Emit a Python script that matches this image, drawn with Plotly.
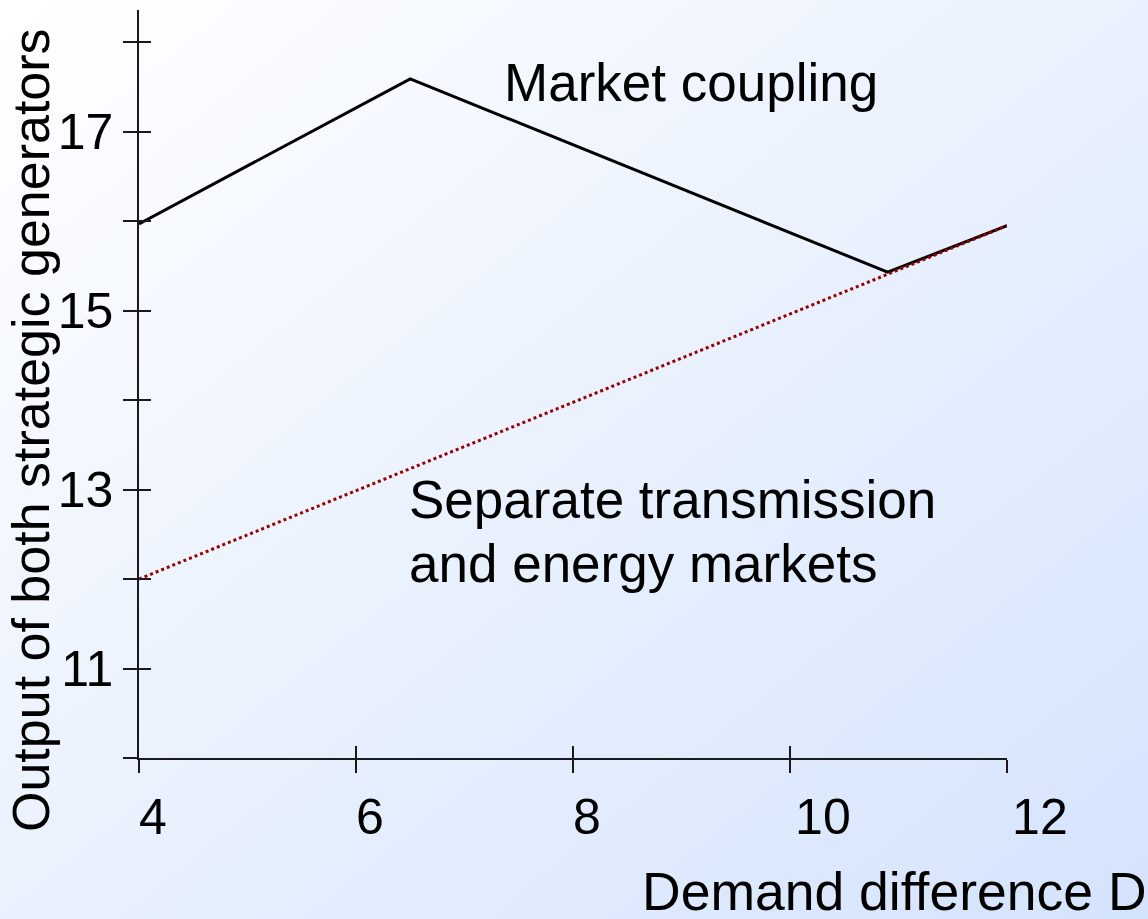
import base64
import plotly.graph_objects as go

# ---- data ----
coupling_x = [4.0, 6.5, 10.9, 12.0]
coupling_y = [15.97, 17.59, 15.43, 15.95]

separate_x = [4.0, 12.0]
separate_y = [12.0, 15.95]

x_tickvals = [4, 6, 8, 10, 12]
x_ticktext = ["4", "6", "8", "\u00a0\u00a0\u200910", "\u00a0\u00a0\u200912"]
y_tickvals = [10, 11, 12, 13, 14, 15, 16, 17, 18]
y_ticktext = ["", "11", "", "13", "", "15", "", "17", ""]

x_range = [4, 12]
y_range = [10, 18.36]

W, H = 1148, 919
L, R, T, B = 139, 141, 10, 161
PW, PH = W - L - R, H - T - B

def px(xpix):
    return (xpix - L) / PW

def py(ypix):
    return (T + PH - ypix) / PH

FONT = "Liberation Sans, Arial, sans-serif"
AX = "#1a1a1a"

fig = go.Figure()
fig.add_trace(go.Scatter(x=coupling_x, y=coupling_y, mode="lines",
                         line=dict(color="black", width=3), showlegend=False,
                         hoverinfo="skip"))
fig.add_trace(go.Scatter(x=separate_x, y=separate_y, mode="lines",
                         line=dict(color="#990000", width=3, dash="3px,3px"),
                         showlegend=False, hoverinfo="skip"))
# invisible trace on the overlay axes (inside half of the crossing ticks)
fig.add_trace(go.Scatter(x=separate_x, y=separate_y, mode="lines", xaxis="x2", yaxis="y2",
                         line=dict(color="rgba(0,0,0,0)", width=0), showlegend=False,
                         hoverinfo="skip"))

svg = ('<svg xmlns="http://www.w3.org/2000/svg" width="1148" height="919" '
       'preserveAspectRatio="none"><defs><linearGradient id="g" x1="0" y1="0" x2="1" y2="1">'
       '<stop offset="0" stop-color="#FFFFFF"/><stop offset="1" stop-color="#D4E3FC"/>'
       '</linearGradient></defs><rect width="1148" height="919" fill="url(#g)"/></svg>')
src = "data:image/svg+xml;base64," + base64.b64encode(svg.encode()).decode()

fig.update_layout(
    width=W, height=H,
    margin=dict(l=L, r=R, t=T, b=B, pad=0),
    paper_bgcolor="rgba(0,0,0,0)", plot_bgcolor="rgba(0,0,0,0)",
    font=dict(family=FONT, color="black"),
    images=[dict(source=src, xref="paper", yref="paper",
                 x=-L / PW, y=1 + T / PH, sizex=W / PW, sizey=H / PH,
                 xanchor="left", yanchor="top", sizing="stretch", layer="below")],
    xaxis=dict(range=x_range, tickvals=x_tickvals, ticktext=x_ticktext,
               ticks="outside", ticklen=13, tickwidth=1.5, tickcolor=AX,
               showline=True, linecolor=AX, linewidth=1.5, showgrid=False, zeroline=False,
               tickfont=dict(size=50, family=FONT), ticklabelshift=14, ticklabelstandoff=1),
    yaxis=dict(range=y_range, tickvals=y_tickvals, ticktext=y_ticktext,
               ticks="outside", ticklen=14, tickwidth=1.5, tickcolor=AX,
               showline=True, linecolor=AX, linewidth=1.5, showgrid=False, zeroline=False,
               tickfont=dict(size=50, family=FONT), ticklabelstandoff=0),
    xaxis2=dict(range=x_range, overlaying="x", anchor="y2", tickvals=x_tickvals,
                ticks="inside", ticklen=12, tickwidth=1.5, tickcolor=AX,
                showticklabels=False, showline=False, showgrid=False, zeroline=False),
    yaxis2=dict(range=y_range, overlaying="y", anchor="x2", tickvals=y_tickvals,
                ticks="inside", ticklen=12, tickwidth=1.5, tickcolor=AX,
                showticklabels=False, showline=False, showgrid=False, zeroline=False),
    annotations=[
        dict(text="Market coupling", xref="paper", yref="paper", x=px(502), y=py(83),
             xanchor="left", yanchor="middle", showarrow=False, font=dict(size=53)),
        dict(text="Separate transmission", xref="paper", yref="paper", x=px(407), y=py(500),
             xanchor="left", yanchor="middle", showarrow=False, font=dict(size=53)),
        dict(text="and energy markets", xref="paper", yref="paper", x=px(407), y=py(563),
             xanchor="left", yanchor="middle", showarrow=False, font=dict(size=53)),
        dict(text="Output of both strategic generators", xref="paper", yref="paper",
             x=px(31), y=py(430), xanchor="center", yanchor="middle", textangle=-90,
             showarrow=False, font=dict(size=52)),
        dict(text="Demand difference D", xref="paper", yref="paper", x=px(894), y=py(891),
             xanchor="center", yanchor="middle", showarrow=False, font=dict(size=53.5)),
    ],
)

fig.write_html("out.html", config={"displayModeBar": False},
               post_script="document.body.style.margin='0';"
               "document.body.style.overflow='hidden';")
